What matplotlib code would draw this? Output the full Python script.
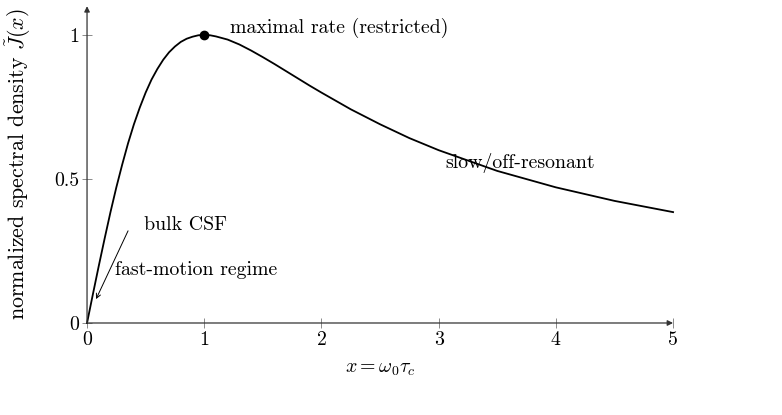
import matplotlib
matplotlib.use("Agg")
import matplotlib.pyplot as plt

plt.rcParams['font.family'] = 'cmr10'
plt.rcParams['mathtext.fontset'] = 'cm'
plt.rcParams['axes.formatter.use_mathtext'] = True

# values (normalized spectral density vs x)
x_vals = [0, 0.05, 0.1, 0.15, 0.2, 0.25, 0.3, 0.35, 0.4, 0.45, 0.5, 0.55, 0.6, 0.65, 0.7,
          0.75, 0.8, 0.85, 0.9, 0.95, 1.0, 1.05, 1.1, 1.2, 1.3, 1.4, 1.5, 1.6, 1.7, 1.8,
          1.9, 2.0, 2.25, 2.5, 2.75, 3.0, 3.5, 4.0, 4.5, 5.0]
j_vals = [0, 0.100, 0.198, 0.293, 0.385, 0.471, 0.550, 0.624, 0.690, 0.748, 0.800, 0.845,
          0.882, 0.914, 0.940, 0.960, 0.976, 0.987, 0.994, 0.999, 1.0, 0.999, 0.995, 0.984,
          0.967, 0.946, 0.923, 0.899, 0.874, 0.849, 0.824, 0.800, 0.742, 0.690, 0.642, 0.600,
          0.528, 0.471, 0.424, 0.385]
peak = (1.0, 1.0)

x_ticks = [0, 1, 2, 3, 4, 5]
y_ticks = [0, 0.5, 1]
y_ticklabels = ["0", "0.5", "1"]

fs = 14.3
fig = plt.figure(figsize=(7.82, 4.15), dpi=100)
ax = fig.add_axes([0.1113, 0.2217, 0.7494, 0.7634])

ax.plot(x_vals, j_vals, color='black', lw=1.3, clip_on=False, zorder=3)
ax.plot(*peak, 'o', color='black', ms=6, clip_on=False, zorder=4)

ax.set_xlim(0, 5)
ax.set_ylim(0, 1.1)
for s in ax.spines.values():
    s.set_visible(False)

# axis lines with arrow heads
ax.annotate('', xy=(5, 0), xytext=(0, 0),
            arrowprops=dict(arrowstyle='-|>', color='#333333', lw=0.9,
                            shrinkA=0, shrinkB=0, mutation_scale=8), annotation_clip=False)
ax.annotate('', xy=(0, 1.1), xytext=(0, 0),
            arrowprops=dict(arrowstyle='-|>', color='#333333', lw=0.9,
                            shrinkA=0, shrinkB=0, mutation_scale=8), annotation_clip=False)

ax.set_xticks(x_ticks)
ax.set_xticklabels([str(t) for t in x_ticks])
ax.set_yticks(y_ticks)
ax.set_yticklabels(y_ticklabels)
ax.tick_params(direction='inout', length=7, width=0.6, color='#777777',
               labelsize=fs, pad=2)

ax.set_xlabel(r'$x = \omega_0\tau_c$', fontsize=fs)
ax.set_ylabel(r'normalized spectral density $\tilde{J}(x)$', fontsize=15.8)
ax.xaxis.set_label_coords(0.5, -0.117)
ax.yaxis.set_label_coords(-0.092, 0.5)

ax.text(1.22, 1.024, 'maximal rate (restricted)', fontsize=fs, va='center', ha='left')
ax.text(3.06, 0.556, 'slow/off-resonant', fontsize=fs, va='center', ha='left')
ax.text(0.49, 0.34, 'bulk CSF', fontsize=fs, va='center', ha='left')
ax.text(0.24, 0.184, 'fast-motion regime', fontsize=fs, va='center', ha='left')
ax.annotate('', xy=(0.077, 0.083), xytext=(0.35, 0.32),
            arrowprops=dict(arrowstyle='->', color='black', lw=0.7,
                            shrinkA=0, shrinkB=0, mutation_scale=8))

fig.savefig('out.png', dpi=100)
